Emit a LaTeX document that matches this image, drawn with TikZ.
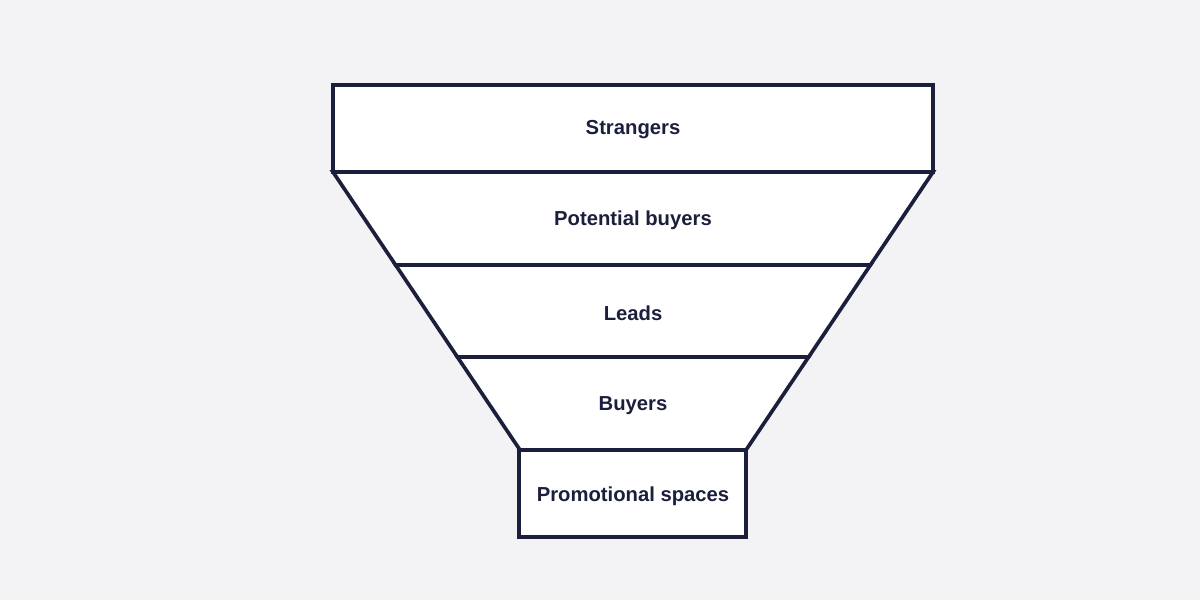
\documentclass[tikz,border=0pt]{standalone}
\usepackage{fontspec}
\setmainfont{Liberation Sans}
\definecolor{bgcol}{HTML}{F3F3F6}
\definecolor{ink}{HTML}{1C1F3C}
\tikzset{
  layer/.style={draw=ink,line width=2.6pt,fill=white,line join=miter},
  lbl/.style={text=ink,font=\bfseries\fontsize{14.4}{17}\selectfont}
}
\begin{document}
\begin{tikzpicture}[x=0.025cm,y=-0.025cm]
\fill[bgcol] (0,0) rectangle (1200,600);
\useasboundingbox (0,0) rectangle (1200,600);
% funnel layers, top to bottom
\draw[layer] (333,85) rectangle (933,172);
\draw[layer] (333,172) -- (933,172) -- (870.4,265) -- (395.6,265) -- cycle;
\draw[layer] (395.6,265) -- (870.4,265) -- (808.6,357) -- (457.4,357) -- cycle;
\draw[layer] (457.4,357) -- (808.6,357) -- (746,450) -- (520,450) -- cycle;
\draw[layer] (519,450) rectangle (746,537);
% labels
\node[lbl] (strangers) at (633,130) {Strangers};
\node[lbl] (potential) at (633,220) {Potential buyers};
\node[lbl] (leads) at (633,313) {Leads};
\node[lbl] (buyers) at (633,406) {Buyers};
\node[lbl] (promo) at (633,496) {Promotional spaces};
\end{tikzpicture}
\end{document}
